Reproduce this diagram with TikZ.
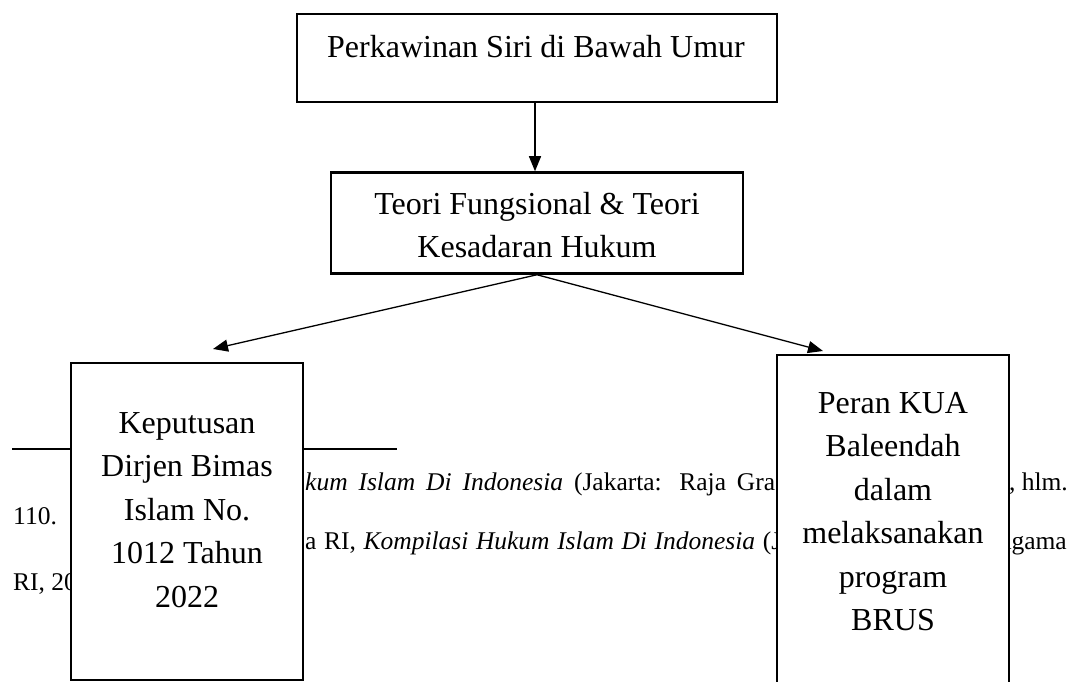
\documentclass[tikz,border=0pt]{standalone}
\usepackage{fontspec}
\setmainfont{Liberation Serif}
\usetikzlibrary{arrows.meta}
\begin{document}
\begin{tikzpicture}[x=1pt,y=-1pt,
  box/.style={draw, line width=2.5pt, fill=white, inner sep=0pt},
  boxtxt/.style={font=\fontsize{32}{43.5}\selectfont, align=center, inner sep=0pt},
  fn/.style={font=\fontsize{25.5}{30}\selectfont, inner sep=0pt},
  conn/.style={line width=1.3pt, -{Triangle[length=15pt,width=12pt]}}]
\useasboundingbox (0,0) rectangle (1077,682);
\clip (0,0) rectangle (1077,682);
% footnote area (partly covered by the boxes)
\draw[line width=2pt] (12,449) -- (397,449);
\node[fn, anchor=base west] (f1) at (305,490) {\makebox[470pt][s]{\textit{kum Islam Di Indonesia} (Jakarta: Raja Gra}};
\node[fn, anchor=base west] (f2) at (13,524) {110.};
\node[fn, anchor=base west] (f3) at (305,549) {\makebox[476pt][s]{a RI, \textit{Kompilasi Hukum Islam Di Indonesia} (J}};
\node[fn, anchor=base west] (f4) at (13,590) {RI, 20};
\node[fn, anchor=base east] (f5) at (1068,490) {, hlm.};
\node[fn, anchor=base east] (f6) at (1067,549) {Agama};
% boxes
\node[box, minimum width=480, minimum height=88] (top) at (537,58) {};
\node[boxtxt] (toptxt) at (536,47) {Perkawinan Siri di Bawah Umur};
\node[box, minimum width=412, minimum height=101] (mid) at (537,223) {};
\node[boxtxt] (midtxt) at (537,225) {Teori Fungsional \& Teori\\Kesadaran Hukum};
\node[box, minimum width=232, minimum height=317] (kep) at (187,521.5) {};
\node[boxtxt] (keptxt) at (187,510) {Keputusan\\Dirjen Bimas\\Islam No.\\1012 Tahun\\2022};
\node[box, minimum width=232, minimum height=345] (kua) at (893,527.5) {};
\node[boxtxt] (kuatxt) at (893,511.5) {Peran KUA\\Baleendah\\dalam\\melaksanakan\\program\\BRUS};
% connectors
\coordinate (tipL) at (213,349);
\coordinate (tipR) at (823,351);
\draw[conn] ([xshift=-2pt]top.south) -- ([xshift=-2pt]mid.north);
\draw[conn] (mid.south) -- (tipL);
\draw[conn] (mid.south) -- (tipR);
\end{tikzpicture}
\end{document}
